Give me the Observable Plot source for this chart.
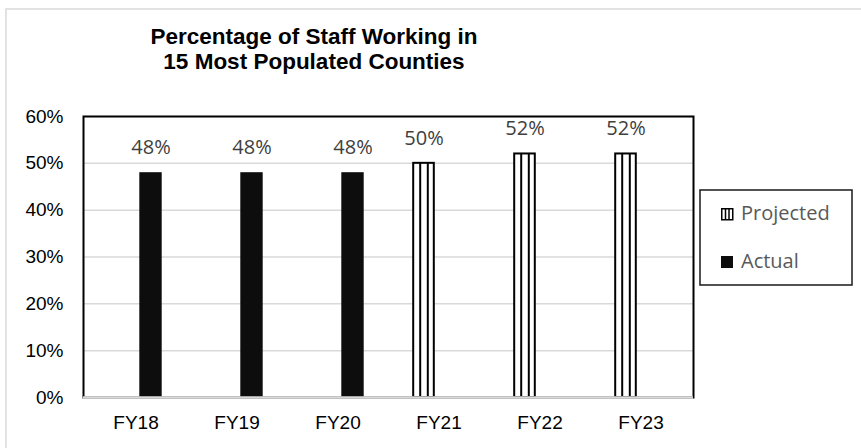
<!DOCTYPE html>
<html>
<head>
<meta charset="utf-8">
<script src="https://cdn.jsdelivr.net/npm/d3@7"></script>
<script src="https://cdn.jsdelivr.net/npm/@observablehq/plot@0.6"></script>
<style>
  html, body { margin: 0; padding: 0; background: #fff; }
  #wrap { position: relative; width: 861px; height: 448px; overflow: hidden; }
  #wrap > svg { position: absolute; left: 0; top: 0; }
  #overlay { pointer-events: none; }
</style>
</head>
<body>
<div id="wrap"></div>
<script>
const titleLines = ["Percentage of Staff Working in", "15 Most Populated Counties"];
const years = ["FY18", "FY19", "FY20", "FY21", "FY22", "FY23"];
const actual = [0.48, 0.48, 0.48, null, null, null];
const projected = [null, null, null, 0.50, 0.52, 0.52];
const seriesNames = ["Projected", "Actual"];
const yTicks = [0, 0.1, 0.2, 0.3, 0.4, 0.5, 0.6];

const actualRows = years.map((y, i) => ({year: y, value: actual[i]})).filter(d => d.value != null);
const projRows = years.map((y, i) => ({year: y, value: projected[i]})).filter(d => d.value != null);
const pct = d3.format(".0%");

const W = 861, H = 448;
const labelFont = "'Open Sans', sans-serif";

const chart = Plot.plot({
  width: W,
  height: H,
  marginTop: 116,
  marginBottom: 51,
  marginLeft: 83,
  marginRight: 168,
  style: {background: "#fff", fontFamily: "'Liberation Sans', Arial, sans-serif", fontSize: "19px", color: "#000"},
  x: {domain: years, padding: 0, label: null, tickSize: 0, tickPadding: 18},
  y: {domain: [0, 0.6], ticks: yTicks, tickFormat: pct, label: null, tickSize: 0, tickPadding: 20},
  marks: [
    Plot.ruleY(yTicks.slice(1), {stroke: "#d9d9d9", strokeWidth: 1.5}),
    Plot.frame({stroke: "#000", strokeWidth: 2}),
    Plot.barY(actualRows, {x: "year", y: "value", fill: "#0d0d0d", insetLeft: 39.3, insetRight: 39.3, dx: 15}),
    Plot.barY(projRows, {x: "year", y: "value", fill: "#fff", stroke: "#000", strokeWidth: 2, insetLeft: 40.2, insetRight: 40.2, dx: -15}),
    Plot.ruleX(projRows, {x: "year", y1: 0, y2: "value", stroke: "#000", strokeWidth: 2, dx: -15 - 3.8}),
    Plot.ruleX(projRows, {x: "year", y1: 0, y2: "value", stroke: "#000", strokeWidth: 2, dx: -15 + 3.8}),
    Plot.ruleY([0], {stroke: "#d9d9d9", strokeWidth: 2.5}),
    Plot.text(actualRows, {x: "year", y: "value", text: d => pct(d.value), dx: 15, dy: -25, fill: "#404040", fontSize: 20, fontFamily: labelFont}),
    Plot.text(projRows, {x: "year", y: "value", text: d => pct(d.value), dx: -15, dy: -25, fill: "#404040", fontSize: 20, fontFamily: labelFont})
  ]
});
document.getElementById("wrap").appendChild(chart);

// Overlay: outer chart border, title, legend
const ov = d3.select("#wrap").append("svg")
  .attr("id", "overlay")
  .attr("width", W).attr("height", H);

ov.append("rect")
  .attr("x", 6).attr("y", 9).attr("width", 1000).attr("height", 1000)
  .attr("fill", "none").attr("stroke", "#d9d9d9").attr("stroke-width", 1.5);

ov.append("text")
  .attr("x", 314).attr("y", 43.5)
  .attr("text-anchor", "middle")
  .attr("font-family", "'Liberation Sans', Arial, sans-serif")
  .attr("font-weight", "bold")
  .attr("font-size", 22.5)
  .attr("fill", "#000")
  .selectAll("tspan").data(titleLines).join("tspan")
  .attr("x", 314).attr("dy", (d, i) => i === 0 ? 0 : 25.3)
  .text(d => d);

const lg = ov.append("g");
lg.append("rect")
  .attr("x", 700).attr("y", 190).attr("width", 152).attr("height", 95)
  .attr("fill", "#fff").attr("stroke", "#1a1a1a").attr("stroke-width", 1.5);

const items = lg.selectAll("g.item").data(seriesNames).join("g")
  .attr("class", "item")
  .attr("transform", (d, i) => `translate(721, ${208 + i * 48})`);

items.each(function(d) {
  const g = d3.select(this);
  if (d === "Projected") {
    g.append("rect").attr("x", 0.75).attr("y", 0.75).attr("width", 11).attr("height", 11)
      .attr("fill", "#fff").attr("stroke", "#000").attr("stroke-width", 1.5);
    g.append("line").attr("x1", 4.5).attr("x2", 4.5).attr("y1", 0).attr("y2", 12).attr("stroke", "#000").attr("stroke-width", 1.5);
    g.append("line").attr("x1", 8).attr("x2", 8).attr("y1", 0).attr("y2", 12).attr("stroke", "#000").attr("stroke-width", 1.5);
  } else {
    g.append("rect").attr("x", 0).attr("y", 0).attr("width", 12).attr("height", 12).attr("fill", "#0d0d0d");
  }
  g.append("text")
    .attr("x", 20).attr("y", 12)
    .attr("font-family", labelFont)
    .attr("font-size", 20)
    .attr("fill", "#595959")
    .text(d);
});
</script>
</body>
</html>
